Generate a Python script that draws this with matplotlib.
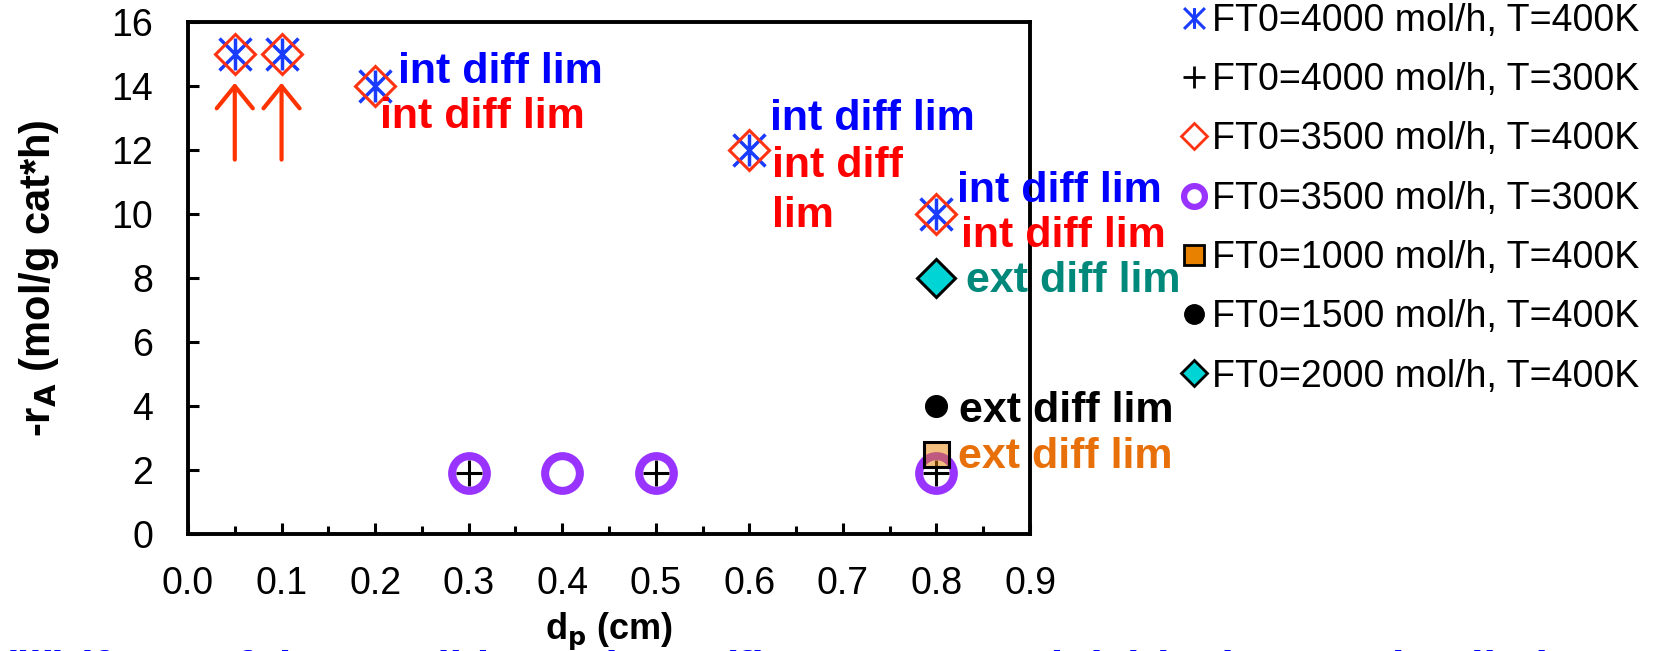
import numpy as np
import matplotlib.pyplot as plt
from matplotlib.path import Path
from matplotlib.lines import Line2D

plt.rcParams['font.family'] = ['Liberation Sans', 'DejaVu Sans']

# --- data: particle size dp (cm) vs rate -rA ---
dp_4000_400 = [0.05, 0.1, 0.2, 0.6, 0.8]
r_4000_400 = [15, 15, 14, 12, 10]
dp_4000_300 = [0.3, 0.5, 0.8]
r_4000_300 = [1.9, 1.9, 1.9]
dp_3500_400 = [0.05, 0.1, 0.2, 0.6, 0.8]
r_3500_400 = [15, 15, 14, 12, 10]
dp_3500_300 = [0.3, 0.4, 0.5, 0.8]
r_3500_300 = [1.9, 1.9, 1.9, 1.9]
dp_1000_400 = [0.8]
r_1000_400 = [2.5]
dp_1500_400 = [0.8]
r_1500_400 = [4]
dp_2000_400 = [0.8]
r_2000_400 = [8]

series_labels = ["FT0=4000 mol/h, T=400K", "FT0=4000 mol/h, T=300K",
                 "FT0=3500 mol/h, T=400K", "FT0=3500 mol/h, T=300K",
                 "FT0=1000 mol/h, T=400K", "FT0=1500 mol/h, T=400K",
                 "FT0=2000 mol/h, T=400K"]

# notes next to points: (dp, rate, text, colour, dx pt, dy pt)
notes = [
    (0.2, 14, "int diff lim", "#0000FF", 16.5, 2),
    (0.2, 14, "int diff lim", "#FF0000", 3.6, -30),
    (0.6, 12, "int diff lim", "#0000FF", 15, 14.4),
    (0.6, 12, "int diff", "#FF0000", 16.5, -19.4),
    (0.6, 12, "lim", "#FF0000", 16.5, -55.4),
    (0.8, 10, "int diff lim", "#0000FF", 15, 8.6),
    (0.8, 10, "int diff lim", "#FF0000", 17.5, -23.8),
    (0.8, 8, "ext diff lim", "#00897B", 21.5, -10),
    (0.8, 4, "ext diff lim", "#000000", 16, -11.5),
    (0.8, 2.5, "ext diff lim", "#E8700A", 15.5, -10),
]

# arrows pointing at the first two points
arrow_x = [0.05, 0.1]
arrow_from = 11.7
arrow_to = 14.1

bottom_note = "(iii) if any of the conditions above (flow rate, T and dp) is the reaction limit"

# asterisk marker like excel: X plus a vertical bar
star = Path([(-1, -1), (1, 1), (-1, 1), (1, -1), (0, -1), (0, 1)],
            [Path.MOVETO, Path.LINETO, Path.MOVETO, Path.LINETO, Path.MOVETO, Path.LINETO])

fig = plt.figure(figsize=(16.55, 6.51), dpi=100)
ax = fig.add_axes([188/1655, 1-534/651, (1030-188)/1655, (534-22)/651])

blue = '#1A3CFF'
red = '#FF3311'
purple = '#9933FF'
orange = '#E88000'
cyan = '#00D4D4'

ax.plot(dp_4000_400, r_4000_400, ls='none', marker=star, ms=23, mew=2.5, color=blue, fillstyle='none')
ax.plot(dp_4000_300, r_4000_300, ls='none', marker='+', ms=19, mew=2.2, color='black')
ax.plot(dp_3500_400, r_3500_400, ls='none', marker='D', ms=20, mew=2.2, mec=red, mfc='none')
ax.plot(dp_3500_300, r_3500_300, ls='none', marker='o', ms=25, mew=5.8, mec=purple, mfc='none')
ax.plot(dp_1000_400, r_1000_400, ls='none', marker='s', ms=18, mew=2.2, mec='black', mfc=(232/255, 128/255, 0, 0.5))
ax.plot(dp_1500_400, r_1500_400, ls='none', marker='o', ms=15.6, color='black')
ax.plot(dp_2000_400, r_2000_400, ls='none', marker='D', ms=19, mew=2.2, mec='black', mfc=cyan)

for x, y, txt, col, dx, dy in notes:
    ax.annotate(txt, (x, y), xytext=(dx, dy), textcoords='offset points',
                ha='left', va='baseline', color=col, fontsize=31, fontweight='bold')

for x in arrow_x:
    ax.annotate('', xy=(x, arrow_to), xytext=(x, arrow_from),
                arrowprops=dict(arrowstyle='->, head_length=0.8, head_width=0.65', color='#FF3300',
                                lw=3, mutation_scale=20, shrinkA=0, shrinkB=0))

ax.set_xlim(0, 0.9)
ax.set_ylim(0, 16)
ax.set_xticks(np.arange(0, 0.91, 0.1))
ax.set_xticks(np.arange(0.05, 0.9, 0.1), minor=True)
ax.set_xticklabels([f"{v:.1f}" for v in np.arange(0, 0.91, 0.1)])
ax.set_yticks(np.arange(0, 17, 2))
ax.tick_params(axis='both', which='major', direction='in', length=8, width=2.2, labelsize=27)
ax.tick_params(axis='x', which='major', pad=23)
ax.tick_params(axis='y', which='major', pad=25)
ax.tick_params(axis='x', which='minor', direction='in', length=6, width=2.2)
for sp in ax.spines.values():
    sp.set_linewidth(2.8)

ax.set_xlabel("d$_\\mathbf{p}$ (cm)", fontsize=26, fontweight='bold')
ax.xaxis.set_label_coords(0.5, -0.192)
ax.xaxis.label.set_va('center')
ax.set_ylabel("-r$_\\mathbf{A}$ (mol/g cat*h)", fontsize=30, fontweight='bold')
ax.yaxis.set_label_coords(-0.177, 0.5)
ax.yaxis.label.set_va('center')

handles = [
    Line2D([], [], ls='none', marker=star, ms=15, mew=2.2, color=blue),
    Line2D([], [], ls='none', marker='+', ms=16, mew=2, color='black'),
    Line2D([], [], ls='none', marker='D', ms=13, mew=2, mec=red, mfc='none'),
    Line2D([], [], ls='none', marker='o', ms=15, mew=4.5, mec=purple, mfc='none'),
    Line2D([], [], ls='none', marker='s', ms=15, mew=2, mec='black', mfc=orange),
    Line2D([], [], ls='none', marker='o', ms=14, color='black'),
    Line2D([], [], ls='none', marker='D', ms=13, mew=2, mec='black', mfc=cyan),
]
fig.legend(handles, series_labels, loc='upper left', bbox_to_anchor=(1180/1655, 1-3/651),
           frameon=False, fontsize=27, handlelength=0.74, handletextpad=0.11,
           labelspacing=0.62, borderpad=0, borderaxespad=0)

fig.text(2/1655, -0.047, bottom_note, color='#0000FF', fontsize=32, fontweight='bold',
         ha='left', va='baseline')

fig.savefig('out.png', dpi=100)
